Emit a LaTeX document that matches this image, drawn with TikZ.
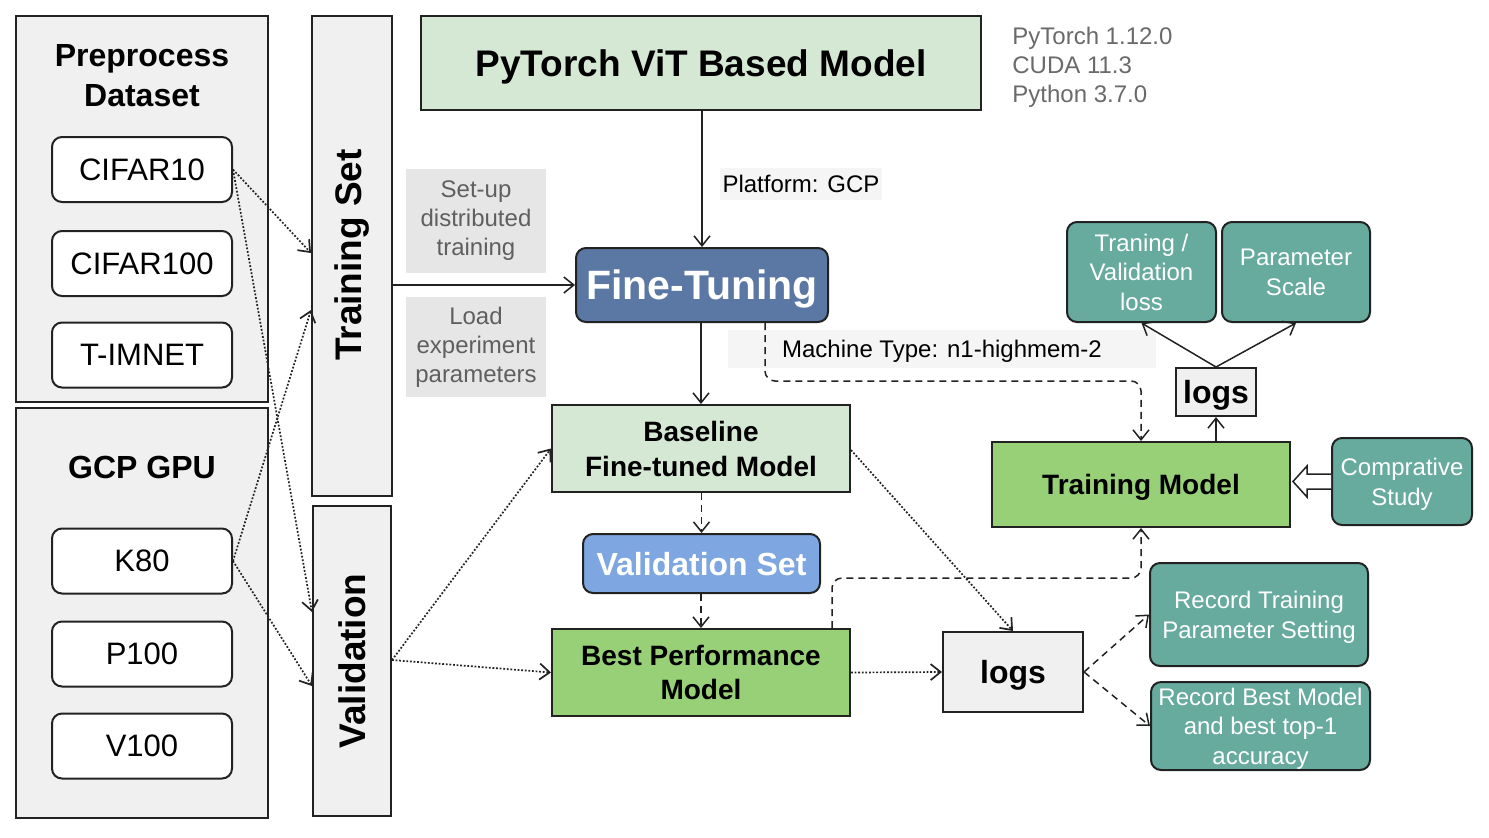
\documentclass[tikz,border=0pt]{standalone}
\usepackage{fontspec}
\setmainfont{Liberation Sans}
\usetikzlibrary{arrows.meta,calc}
\definecolor{boxgray}{HTML}{F0F0F0}
\definecolor{lblgray}{HTML}{E6E6E6}
\definecolor{lbllight}{HTML}{F5F5F5}
\definecolor{txtgray}{HTML}{5F5F5F}
\definecolor{vergray}{HTML}{6A6A6A}
\definecolor{lgreen}{HTML}{D5E8D4}
\definecolor{mgreen}{HTML}{97D077}
\definecolor{teal}{HTML}{67AB9F}
\definecolor{ftblue}{HTML}{5A78A3}
\definecolor{vsblue}{HTML}{7EA6E0}
\definecolor{edge}{HTML}{222222}
\tikzset{
  base/.style={draw=edge, line width=1pt, inner sep=0pt, align=center, text depth=0pt},
  graybox/.style={base, fill=boxgray},
  itembox/.style={base, fill=white, rounded corners=5pt, minimum width=90pt, minimum height=32.5pt, font=\fontsize{15.5}{18}\selectfont},
  lgbox/.style={base, fill=lgreen},
  mgbox/.style={base, fill=mgreen},
  tealbox/.style={base, fill=teal, rounded corners=5pt, text=white, font=\fontsize{12}{14.8}\selectfont},
  note/.style={fill=lblgray, text=txtgray, inner sep=0pt, align=center, font=\fontsize{12}{14.5}\selectfont},
  lnote/.style={fill=lbllight, inner sep=0pt, align=center, text depth=0pt, font=\fontsize{12}{14.5}\selectfont},
  conn/.style={line width=0.75pt, draw=edge, -{Straight Barb[length=5pt,width=8pt]}},
  dotconn/.style={conn, line width=0.85pt, dash pattern=on 0.9pt off 0.9pt},
  dashconn/.style={conn, dash pattern=on 3.5pt off 2.5pt, rounded corners=5pt},
}
\begin{document}
\begin{tikzpicture}[x=0.5pt,y=-0.5pt]
\useasboundingbox (0,0) rectangle (1489,837);
\fill[white] (0,0) rectangle (1489,837);

% left groups
\node[graybox, minimum width=126pt, minimum height=193pt] (prep) at (142,209) {};
\node[graybox, minimum width=126pt, minimum height=205pt] (gpu) at (142,613) {};
\node[font=\fontsize{16}{20}\selectfont\bfseries, align=center] (preptitle) at (142,76) {Preprocess\\Dataset};
\node[font=\fontsize{16}{20}\selectfont\bfseries] (gputitle) at (142,467) {GCP GPU};
\node[itembox] (c10) at (142,169.5) {CIFAR10};
\node[itembox] (c100) at (142,263.5) {CIFAR100};
\node[itembox] (tim) at (142,355) {T-IMNET};
\node[itembox] (k80) at (142,561) {K80};
\node[itembox] (p100) at (142,654) {P100};
\node[itembox] (v100) at (142,746) {V100};

% training / validation bars
\node[graybox, minimum width=40pt, minimum height=240pt] (trainset) at (352,256) {};
\node[rotate=90, font=\fontsize{18.5}{22}\selectfont\bfseries] (trainlbl) at (352,255) {Training Set};
\node[graybox, minimum width=39pt, minimum height=155pt] (valid) at (352,661) {};
\node[rotate=90, font=\fontsize{18.5}{22}\selectfont\bfseries] (validlbl) at (352,661) {Validation};

% notes
\node[note, minimum width=70pt, minimum height=52pt] (setup) at (476,221) {Set-up\\distributed\\training};
\node[note, minimum width=70pt, minimum height=50pt] (load) at (476,347) {Load\\experiment\\parameters};

% top model
\node[lgbox, minimum width=280pt, minimum height=47pt, font=\fontsize{18.5}{22}\selectfont\bfseries] (pyt) at (701,63) {PyTorch ViT Based Model};
\node[anchor=west, align=left, text=vergray, inner sep=0pt, font=\fontsize{12}{14.6}\selectfont] (ver) at (1012,67) {PyTorch 1.12.0\\CUDA 11.3\\Python 3.7.0};

\node[lnote, minimum width=81pt, minimum height=16pt] (plat) at (801,184) {Platform: GCP};
\node[lnote, minimum width=214pt, minimum height=19pt] (mach) at (942,349) {Machine Type: n1-highmem-2};

\node[base, fill=ftblue, rounded corners=5pt, minimum width=126pt, minimum height=37pt, text=white, font=\fontsize{20.5}{24}\selectfont\bfseries] (ft) at (702,285) {Fine-Tuning};

\node[lgbox, minimum width=149pt, minimum height=43.5pt, font=\fontsize{14}{17.5}\selectfont\bfseries] (bl) at (701,448.5) {Baseline\\Fine-tuned Model};
\node[base, fill=vsblue, rounded corners=5pt, minimum width=118.5pt, minimum height=29.5pt, text=white, font=\fontsize{16}{19}\selectfont\bfseries] (vs) at (701.5,563.5) {Validation Set};
\node[mgbox, minimum width=149pt, minimum height=43.5pt, font=\fontsize{14}{17}\selectfont\bfseries] (best) at (701,672.5) {Best Performance\\Model};

\node[graybox, minimum width=70pt, minimum height=40pt, font=\fontsize{16}{19}\selectfont\bfseries] (logsa) at (1013,672) {logs};
\node[tealbox, minimum width=109pt, minimum height=51.5pt] (rtrain) at (1259,614.5) {Record Training\\Parameter Setting};
\node[tealbox, minimum width=109.5pt, minimum height=44pt] (rbest) at (1260.5,726) {Record Best Model\\and best top-1\\accuracy};

\node[mgbox, minimum width=149pt, minimum height=42.5pt, font=\fontsize{14}{17}\selectfont\bfseries] (tm) at (1141,484.5) {Training Model};
\node[graybox, minimum width=40pt, minimum height=24pt, font=\fontsize{16}{19}\selectfont\bfseries] (logsb) at (1216,392) {logs};
\node[tealbox, minimum width=74.5pt, minimum height=50pt] (tvl) at (1141.5,272) {Traning /\\Validation\\loss};
\node[tealbox, minimum width=74pt, minimum height=50pt] (psc) at (1296,272) {Parameter\\Scale};
\node[tealbox, minimum width=70pt, minimum height=43.5pt] (comp) at (1402,481.5) {Comprative\\Study};

% connectors: datasets / gpus
\draw[dotconn] (c10.east) -- (trainset.west |- {(0,253)});
\draw[dotconn] (c10.east) -- (valid.west |- {(0,612)});
\draw[dotconn] (k80.east) -- (trainset.west |- {(0,310)});
\draw[dotconn] (k80.east) -- (valid.west |- {(0,686)});
\draw[dotconn] (valid.east |- {(0,660)}) -- (bl.west);
\draw[dotconn] (valid.east |- {(0,660)}) -- (best.west);

\draw[conn] (trainset.east |- ft.west) -- (ft.west);
\draw[conn] (pyt.south -| ft.north) -- (ft.north);
\draw[conn] (ft.south -| bl.north) -- (bl.north);
\draw[conn, dash pattern=on 3.5pt off 2.5pt] (bl.south -| vs.north) -- (vs.north);
\draw[conn, dash pattern=on 3.5pt off 2.5pt] (vs.south -| best.north) -- (best.north);
\draw[dotconn] (best.east) -- (logsa.west);
\draw[dotconn] (bl.east |- {(0,450)}) -- (logsa.north);
\draw[dashconn] (logsa.east) -- (rtrain.west);
\draw[dashconn] (logsa.east) -- (rbest.west);

\draw[dashconn] (ft.south -| {(765,0)}) -- (765,381) -- (1141,381) -- (tm.north);
\draw[dashconn] (best.north -| {(832,0)}) -- (832,578) -- (1141,578) -- (tm.south);

\draw[conn] (tm.north -| logsb.south) -- (logsb.south);
\draw[conn] (logsb.north) -- (tvl.south);
\draw[conn] (logsb.north) -- (psc.south);

% hollow block arrow comp -> tm
\coordinate (ha) at (comp.west);
\coordinate (hb) at ([xshift=1pt]tm.east);
\draw[line width=0.75pt, draw=edge, fill=white]
  ([yshift=3.75pt]ha) -- ([xshift=7pt,yshift=3.75pt]hb |- ha) -- ([xshift=7pt,yshift=7.75pt]hb |- ha)
  -- (hb |- ha) -- ([xshift=7pt,yshift=-7.75pt]hb |- ha) -- ([xshift=7pt,yshift=-3.75pt]hb |- ha)
  -- ([yshift=-3.75pt]ha);
\end{tikzpicture}
\end{document}
